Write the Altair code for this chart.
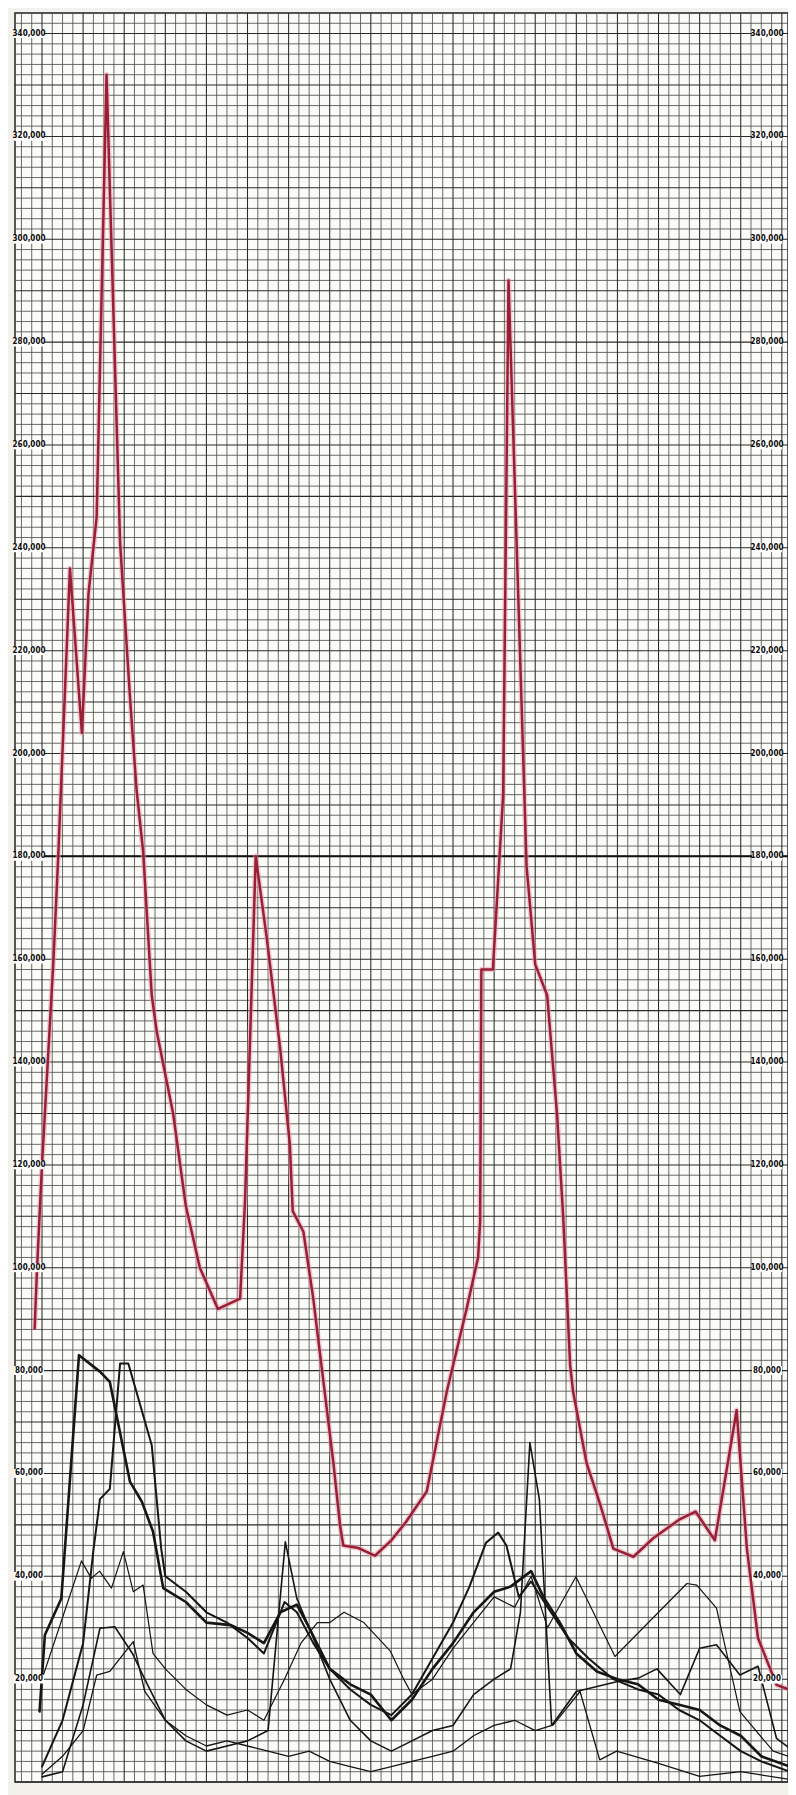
import json
import altair as alt
import pandas as pd
import numpy as np

# ---------------- data ----------------
month_labels = ["6", "7", "8", "9", "10", "11", "12", "1", "2", "3", "4", "5",
                "6", "7", "8", "9", "10", "11", "12"]
y_tick_values = [20000 * k for k in range(1, 18)]

# red series (month index from first "6", value in thousands)
red_t = [-0.18, -0.12, 0.0, 0.28, 0.4, 0.68, 0.97, 1.13, 1.33, 1.57, 1.9, 2.14, 2.3,
         2.46, 2.67, 2.79, 3.19, 3.5, 3.84, 4.28, 4.82, 4.94, 5.2, 5.47, 5.79, 6.03,
         6.1, 6.36, 6.6, 7.09, 7.25, 7.33, 7.7, 8.1, 8.5, 8.85, 9.36, 9.85, 10.33,
         10.61, 10.66, 10.69, 10.97, 11.22, 11.35, 11.79, 12.0, 12.29, 12.53, 12.68,
         12.85, 12.92, 13.25, 13.58, 13.9, 14.39, 14.87, 15.5, 15.9, 16.37, 16.9,
         17.15, 17.42, 17.87, 18.27]
red_v = [88, 100, 120, 160, 181, 236, 204, 231, 246, 332, 241, 211, 193,
         181, 153, 146, 130, 112, 100, 92, 94, 113, 180, 164, 143, 124,
         111, 107, 94, 62, 50, 46, 45.5, 44, 47, 50.5, 56.5, 76, 92,
         102, 109, 158, 158, 192, 292, 178, 159, 153, 130, 110,
         81, 76, 62, 54, 45.4, 43.8, 47.4, 51, 52.6, 47, 72.3,
         45.4, 28, 18.9, 17.7]

a_t = [-0.06, 0.07, 0.47, 0.9, 1.41, 1.65, 2.14, 2.43, 2.7, 2.95, 3.5, 4.0, 4.6, 5.0,
       5.4, 5.8, 6.2, 6.5, 7.0, 7.5, 8.0, 8.5, 9.0, 9.5, 10.0, 10.5, 11.0, 11.4, 11.9,
       12.2, 12.6, 13.0, 13.5, 14.0, 14.5, 15.0, 15.5, 16.0, 16.5, 17.0, 17.5, 18.2]
a_v = [13.7, 28.6, 35.7, 83, 79.8, 77.8, 58.4, 54.5, 48.7, 37.7, 35, 31, 30.5, 29,
       27, 33, 34.5, 30, 22, 19, 17, 12, 16, 22, 27, 33, 37, 38, 41,
       36, 31, 25, 21.5, 20, 19, 16, 15, 14, 11, 9, 5, 3]

b_t = [0.0, 0.5, 1.0, 1.25, 1.41, 1.65, 1.9, 2.1, 2.67, 2.9, 3.0, 3.5, 4.0, 4.5, 5.0,
       5.4, 5.9, 6.2, 6.6, 7.0, 7.5, 8.0, 8.5, 9.0, 9.5, 10.0, 10.4, 10.8, 11.1, 11.3,
       11.6, 11.9, 12.3, 12.8, 13.3, 13.9, 14.5, 15.0, 15.5, 16.0, 16.5, 17.0, 17.5, 18.2]
b_v = [3, 12, 27, 45, 55, 57, 81.4, 81.4, 65.5, 45.4, 40, 37, 33, 31, 28,
       25, 35, 33, 27, 22, 18, 15, 13, 17, 24, 31, 38, 46.5, 48.5, 46,
       36, 39, 34, 28, 24, 20, 18, 17, 14, 12, 9, 6, 4, 2]

c_t = [0.0, 0.5, 0.96, 1.2, 1.4, 1.69, 1.98, 2.22, 2.46, 2.7, 3.0, 3.5, 4.0, 4.5, 5.0,
       5.4, 5.9, 6.3, 6.7, 7.0, 7.35, 7.83, 8.48, 8.8, 9.0, 9.5, 10.0, 10.6, 11.0, 11.5,
       11.9, 12.3, 12.99, 13.94, 15.69, 15.93, 16.41, 16.98, 17.79, 18.28]
c_v = [20, 32, 43, 39.6, 41, 37.7, 44.8, 37, 38.3, 25, 22, 18, 15, 13, 14,
       12, 20, 27, 31, 31, 33, 31, 25.4, 20, 17, 20, 26, 32, 36, 34,
       40, 30, 39.9, 24.4, 38.6, 38.3, 33.8, 13.7, 6, 4.7]

d_t = [0.0, 0.5, 1.0, 1.41, 1.77, 2.2, 2.5, 3.0, 3.5, 4.0, 4.5, 5.0, 5.5, 5.92, 6.2,
       6.5, 7.0, 7.5, 8.0, 8.5, 9.0, 9.5, 10.0, 10.5, 11.0, 11.4, 11.64, 11.87, 12.1,
       12.4, 13.0, 13.98, 14.51, 14.96, 15.53, 16.0, 16.41, 16.98, 17.42, 17.87, 18.28]
d_v = [1, 2, 15, 29.9, 30.2, 25, 20, 12, 8, 6, 7, 8, 10, 46.7, 35.7,
       30, 20, 12, 8, 6, 8, 10, 11, 17, 20, 22, 33, 66, 55,
       11, 17.6, 19.5, 20.2, 22, 17, 26, 26.7, 20.8, 22.5, 8.5, 6]

e_t = [0.0, 0.5, 1.0, 1.33, 1.65, 2.22, 2.5, 3.0, 3.5, 4.0, 4.5, 5.0, 5.5, 6.0, 6.5,
       7.0, 7.5, 8.0, 8.5, 9.0, 9.5, 10.0, 10.5, 11.0, 11.5, 12.0, 12.44, 13.09, 13.57,
       13.98, 14.96, 16.0, 17.0, 18.2]
e_v = [1.5, 5, 10, 20.8, 21.5, 27.3, 17.6, 12, 9, 7, 8, 7, 6, 5, 6,
       4, 3, 2, 3, 4, 5, 6, 9, 11, 12, 10, 11.1, 17.6, 4.3,
       6, 3.7, 1.1, 2, 0.5]

black_series = [("A", a_t, a_v, 2.6), ("B", b_t, b_v, 2.0), ("C", c_t, c_v, 1.2),
                ("D", d_t, d_v, 1.6), ("E", e_t, e_v, 1.3)]

# ---------------- geometry / scales ----------------
W, H = 773, 1769
X_DOM = [-0.657, 18.15]
Y_DOM = [0, 344000]
xs = alt.Scale(domain=X_DOM, nice=False, zero=False)
ys = alt.Scale(domain=Y_DOM, nice=False, zero=False)
FONT = "'Liberation Sans Narrow', 'DejaVu Sans Condensed', 'Roboto Condensed', sans-serif"

# grid
vt = np.arange(-0.5, 18.01, 0.25)
grid_v_minor = pd.DataFrame({"t": [v for v in vt if abs(v - round(v)) > 1e-9]})
grid_v_major = pd.DataFrame({"t": [float(v) for v in range(0, 19)]})
ht = np.arange(0, 344001, 2000)
grid_h_minor = pd.DataFrame({"v": [v for v in ht if v % 10000 != 0]})
grid_h_major = pd.DataFrame({"v": [v for v in ht if v % 10000 == 0]})
grid_h_special = pd.DataFrame({"v": [180000]})

def vrules(df, color, width):
    return alt.Chart(df).mark_rule(color=color, strokeWidth=width).encode(
        x=alt.X("t:Q", scale=xs, axis=None))

def hrules(df, color, width):
    return alt.Chart(df).mark_rule(color=color, strokeWidth=width).encode(
        y=alt.Y("v:Q", scale=ys, axis=None))

layers = [
    hrules(grid_h_minor, "#505050", 0.85),
    vrules(grid_v_minor, "#505050", 0.85),
    hrules(grid_h_major, "#2a2a2a", 1.05),
    vrules(grid_v_major, "#2a2a2a", 1.05),
    hrules(grid_h_special, "#111111", 2.0),
]

# lines
rows = []
for name, tt, vv, w in black_series:
    for i, (t, v) in enumerate(zip(tt, vv)):
        rows.append({"series": name, "i": i, "t": t, "v": v * 1000})
blk = pd.DataFrame(rows)
widths = {name: w for name, _, _, w in black_series}
for name in widths:
    layers.append(
        alt.Chart(blk[blk.series == name]).mark_line(
            color="#161616", strokeWidth=widths[name], strokeJoin="round", strokeCap="round"
        ).encode(x=alt.X("t:Q", scale=xs, axis=None),
                 y=alt.Y("v:Q", scale=ys, axis=None),
                 order="i:Q"))

red_df = pd.DataFrame({"i": range(len(red_t)), "t": red_t, "v": [v * 1000 for v in red_v]})
layers.append(
    alt.Chart(red_df).mark_line(color="#e6a0ad", strokeWidth=5.5, opacity=0.5,
                                strokeJoin="round").encode(
        x=alt.X("t:Q", scale=xs, axis=None), y=alt.Y("v:Q", scale=ys, axis=None), order="i:Q"))
layers.append(
    alt.Chart(red_df).mark_line(color="#9a1f36", strokeWidth=2.5, strokeJoin="round").encode(
        x=alt.X("t:Q", scale=xs, axis=None), y=alt.Y("v:Q", scale=ys, axis=None), order="i:Q"))

# y tick labels (both sides) with white boxes
lab = pd.DataFrame({"v": y_tick_values,
                    "label": [f"{v:,}" for v in y_tick_values]})
lab["v0"] = lab["v"] - 850
lab["v1"] = lab["v"] + 850
for xc in (14, 752):
    layers.append(alt.Chart(lab).mark_rect(color="#ffffff").encode(
        x=alt.value(xc - 15), x2=alt.value(xc + 15),
        y=alt.Y("v0:Q", scale=ys, axis=None), y2="v1:Q"))
    layers.append(alt.Chart(lab).mark_text(
        font=FONT, fontWeight="bold", fontSize=8, color="#0a0a0a",
        align="center", baseline="middle").encode(
        x=alt.value(xc), y=alt.Y("v:Q", scale=ys, axis=None), text="label:N"))

# x axis labels
label_expr = "%s[round(datum.value)]" % json.dumps(month_labels)
xaxis_layer = alt.Chart(grid_v_major).mark_tick(opacity=0).encode(
    x=alt.X("t:Q", scale=xs,
            axis=alt.Axis(values=list(range(19)), labelExpr=label_expr, grid=False,
                          ticks=False, domain=False, labelFontSize=8.5,
                          labelFont=FONT, labelFontWeight="bold",
                          labelColor="#111111", labelPadding=2, title=None)),
    y=alt.value(0))
layers.append(xaxis_layer)

chart = alt.layer(*layers).properties(
    width=W, height=H,
    autosize=alt.AutoSizeParams(type="none"),
    padding={"left": 7, "top": 5, "right": 0, "bottom": 13},
    background="#f2f1ec",
).configure_view(stroke="#222222", strokeWidth=1.5, fill="#fbfbf8")

chart.save("out.html", embed_options={"renderer": "svg", "actions": False})
